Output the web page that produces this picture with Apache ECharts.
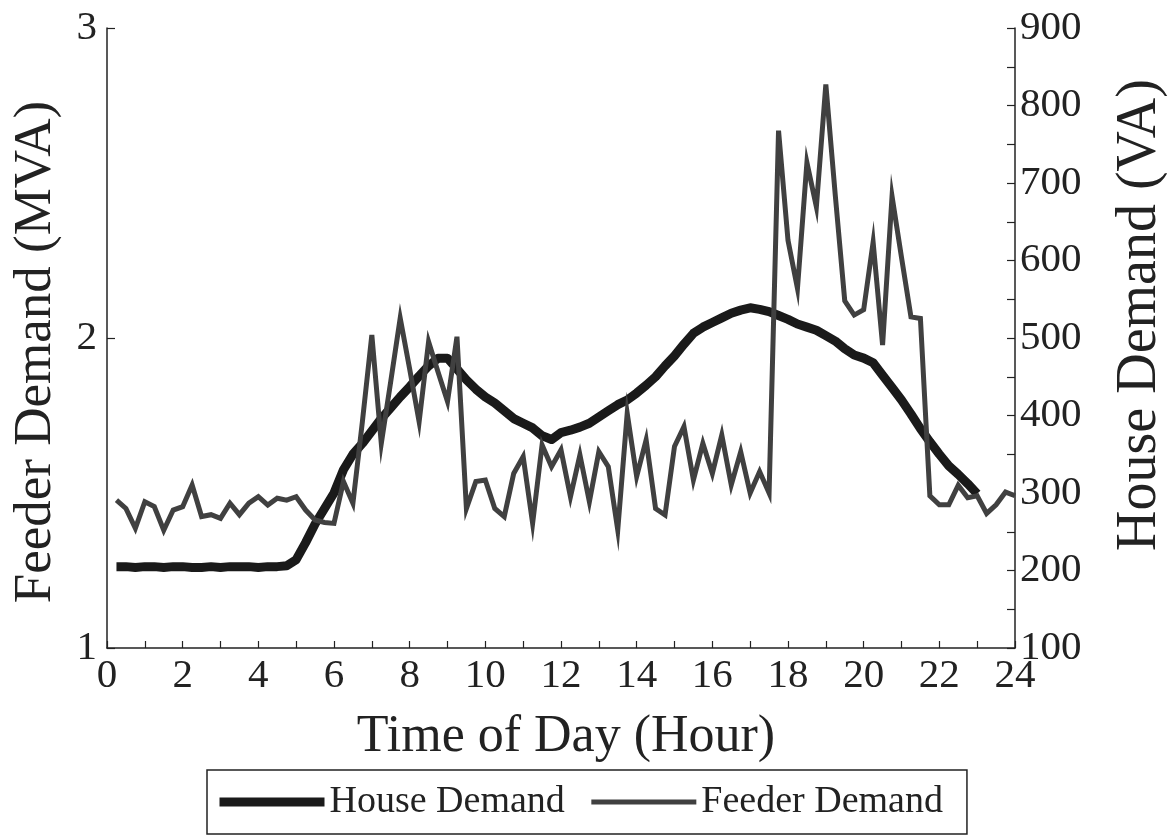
<!DOCTYPE html>
<html>
<head>
<meta charset="utf-8">
<title>House and Feeder Demand</title>
<script src="https://cdn.jsdelivr.net/npm/echarts@6/dist/echarts.min.js"></script>
<style>
  html, body { margin: 0; padding: 0; background: #fff; }
  #main { width: 1168px; height: 839px; }
</style>
</head>
<body>
<div id="main"></div>
<script>
// time of day (hour), 15 min samples
var feederTimes = [0.25, 0.5, 0.75, 1, 1.25, 1.5, 1.75, 2, 2.25, 2.5, 2.75, 3,
    3.25, 3.5, 3.75, 4, 4.25, 4.5, 4.75, 5, 5.25, 5.5, 5.75, 6,
    6.25, 6.5, 6.75, 7, 7.25, 7.5, 7.75, 8, 8.25, 8.5, 8.75, 9,
    9.25, 9.5, 9.75, 10, 10.25, 10.5, 10.75, 11, 11.25, 11.5, 11.75, 12,
    12.25, 12.5, 12.75, 13, 13.25, 13.5, 13.75, 14, 14.25, 14.5, 14.75, 15,
    15.25, 15.5, 15.75, 16, 16.25, 16.5, 16.75, 17, 17.25, 17.5, 17.75, 18,
    18.25, 18.5, 18.75, 19, 19.25, 19.5, 19.75, 20, 20.25, 20.5, 20.75, 21,
    21.25, 21.5, 21.75, 22, 22.25, 22.5, 22.75, 23, 23.25, 23.5, 23.75, 24];

// Feeder Demand (MVA) - left axis
var feederMVA = [1.477, 1.45, 1.386, 1.472, 1.456, 1.38, 1.445, 1.456, 1.526, 1.424, 1.43, 1.418,
    1.467, 1.43, 1.467, 1.488, 1.461, 1.483, 1.477, 1.488, 1.445, 1.413, 1.405, 1.402,
    1.537, 1.467, 1.73, 2.01, 1.66, 1.86, 2.064, 1.90, 1.73, 1.988, 1.89, 1.795,
    2.004, 1.45, 1.537, 1.542, 1.45, 1.424, 1.563, 1.617, 1.402, 1.655, 1.585, 1.639,
    1.488, 1.623, 1.472, 1.633, 1.585, 1.381, 1.757, 1.553, 1.671, 1.45, 1.429, 1.65,
    1.714, 1.542, 1.66, 1.563, 1.687, 1.526, 1.633, 1.50, 1.569, 1.50, 2.669, 2.315,
    2.16, 2.566, 2.423, 2.818, 2.46, 2.12, 2.074, 2.091, 2.309, 1.977, 2.457, 2.26,
    2.068, 2.063, 1.491, 1.462, 1.462, 1.525, 1.485, 1.491, 1.434, 1.462, 1.503, 1.491];

// House Demand (VA) - right axis, 0.25 h to 23 h
var houseTimes = feederTimes.slice(0, 92);
var houseVA = [205, 205, 204, 205, 205, 204, 205, 205, 204, 204, 205, 204,
    205, 205, 205, 204, 205, 205, 206, 214, 236, 260, 280, 300,
    330, 350, 364, 380, 396, 410, 424, 437, 451, 464, 474, 474,
    460, 446, 434, 424, 416, 406, 396, 390, 384, 374, 369, 378,
    381, 385, 390, 398, 406, 414, 420, 429, 439, 450, 464, 477,
    492, 506, 514, 520, 526, 532, 536, 539, 537, 534, 529, 524,
    518, 514, 510, 503, 496, 486, 478, 474, 468, 452, 436, 420,
    402, 383, 366, 350, 335, 324, 312, 299];

var seriesNames = ['House Demand', 'Feeder Demand'];

function pairs(xs, ys) {
    var out = [];
    for (var i = 0; i < ys.length; i++) {
        out.push([xs[i], ys[i]]);
    }
    return out;
}

var FONT = 'Liberation Serif';
var INK = '#222';

var myChart = echarts.init(document.getElementById('main'));

var option = {
    backgroundColor: '#fff',
    animation: false,
    grid: { left: 107, right: 153, top: 28, bottom: 191, containLabel: false },
    xAxis: {
        type: 'value',
        min: 0,
        max: 24,
        interval: 1,
        axisLine: { show: true, lineStyle: { color: INK, width: 1.5 } },
        axisTick: { show: true, inside: true, length: 7, lineStyle: { color: INK, width: 1.2 } },
        axisLabel: {
            fontFamily: FONT, fontSize: 41, color: INK, margin: 8,
            formatter: function(v) { return v % 2 === 0 ? String(v) : ''; }
        },
        splitLine: { show: false }
    },
    yAxis: [{
        type: 'value',
        position: 'left',
        min: 1,
        max: 3,
        interval: 1,
        axisLine: { show: true, lineStyle: { color: INK, width: 1.5 } },
        axisTick: { show: true, inside: true, length: 8, lineStyle: { color: INK, width: 1.2 } },
        axisLabel: { fontFamily: FONT, fontSize: 41, color: INK, margin: 10 },
        splitLine: { show: false }
    }, {
        type: 'value',
        position: 'right',
        min: 100,
        max: 900,
        interval: 50,
        axisLine: { show: true, lineStyle: { color: INK, width: 1.5 } },
        axisTick: { show: true, inside: true, length: 8, lineStyle: { color: INK, width: 1.2 } },
        axisLabel: {
            fontFamily: FONT, fontSize: 41, color: INK, margin: 5,
            formatter: function(v) { return v % 100 === 0 ? String(v) : ''; }
        },
        splitLine: { show: false }
    }],
    legend: {
        left: 207,
        top: 770,
        orient: 'horizontal',
        itemWidth: 105,
        itemHeight: 20,
        itemGap: 24,
        padding: [13, 24, 13, 8],
        borderColor: INK,
        borderWidth: 1.5,
        textStyle: { fontFamily: FONT, fontSize: 38, color: INK },
        data: [
            { name: seriesNames[0], lineStyle: { width: 9 }, itemStyle: { opacity: 0 } },
            { name: seriesNames[1], lineStyle: { width: 5 }, itemStyle: { opacity: 0 } }
        ]
    },
    graphic: [{
        type: 'text',
        x: 566, y: 737,
        style: {
            text: 'Time of Day (Hour)', fontFamily: FONT, fontSize: 52, fill: INK,
            align: 'center', verticalAlign: 'middle'
        }
    }, {
        type: 'text',
        x: 36, y: 352,
        rotation: Math.PI / 2,
        style: {
            text: 'Feeder Demand (MVA)', fontFamily: FONT, fontSize: 53, fill: INK,
            align: 'center', verticalAlign: 'middle'
        }
    }, {
        type: 'text',
        x: 1140, y: 315,
        rotation: Math.PI / 2,
        style: {
            text: 'House Demand (VA)', fontFamily: FONT, fontSize: 56, fill: INK,
            align: 'center', verticalAlign: 'middle'
        }
    }],
    series: [{
        name: seriesNames[0],
        type: 'line',
        yAxisIndex: 1,
        symbol: 'none',
        data: pairs(houseTimes, houseVA),
        lineStyle: { color: '#1a1a1a', width: 9, join: 'round' },
        itemStyle: { color: '#1a1a1a' },
        z: 2
    }, {
        name: seriesNames[1],
        type: 'line',
        yAxisIndex: 0,
        symbol: 'none',
        data: pairs(feederTimes, feederMVA),
        lineStyle: { color: '#404040', width: 5, join: 'miter' },
        itemStyle: { color: '#404040' },
        z: 3
    }]
};

myChart.setOption(option);
</script>
</body>
</html>
